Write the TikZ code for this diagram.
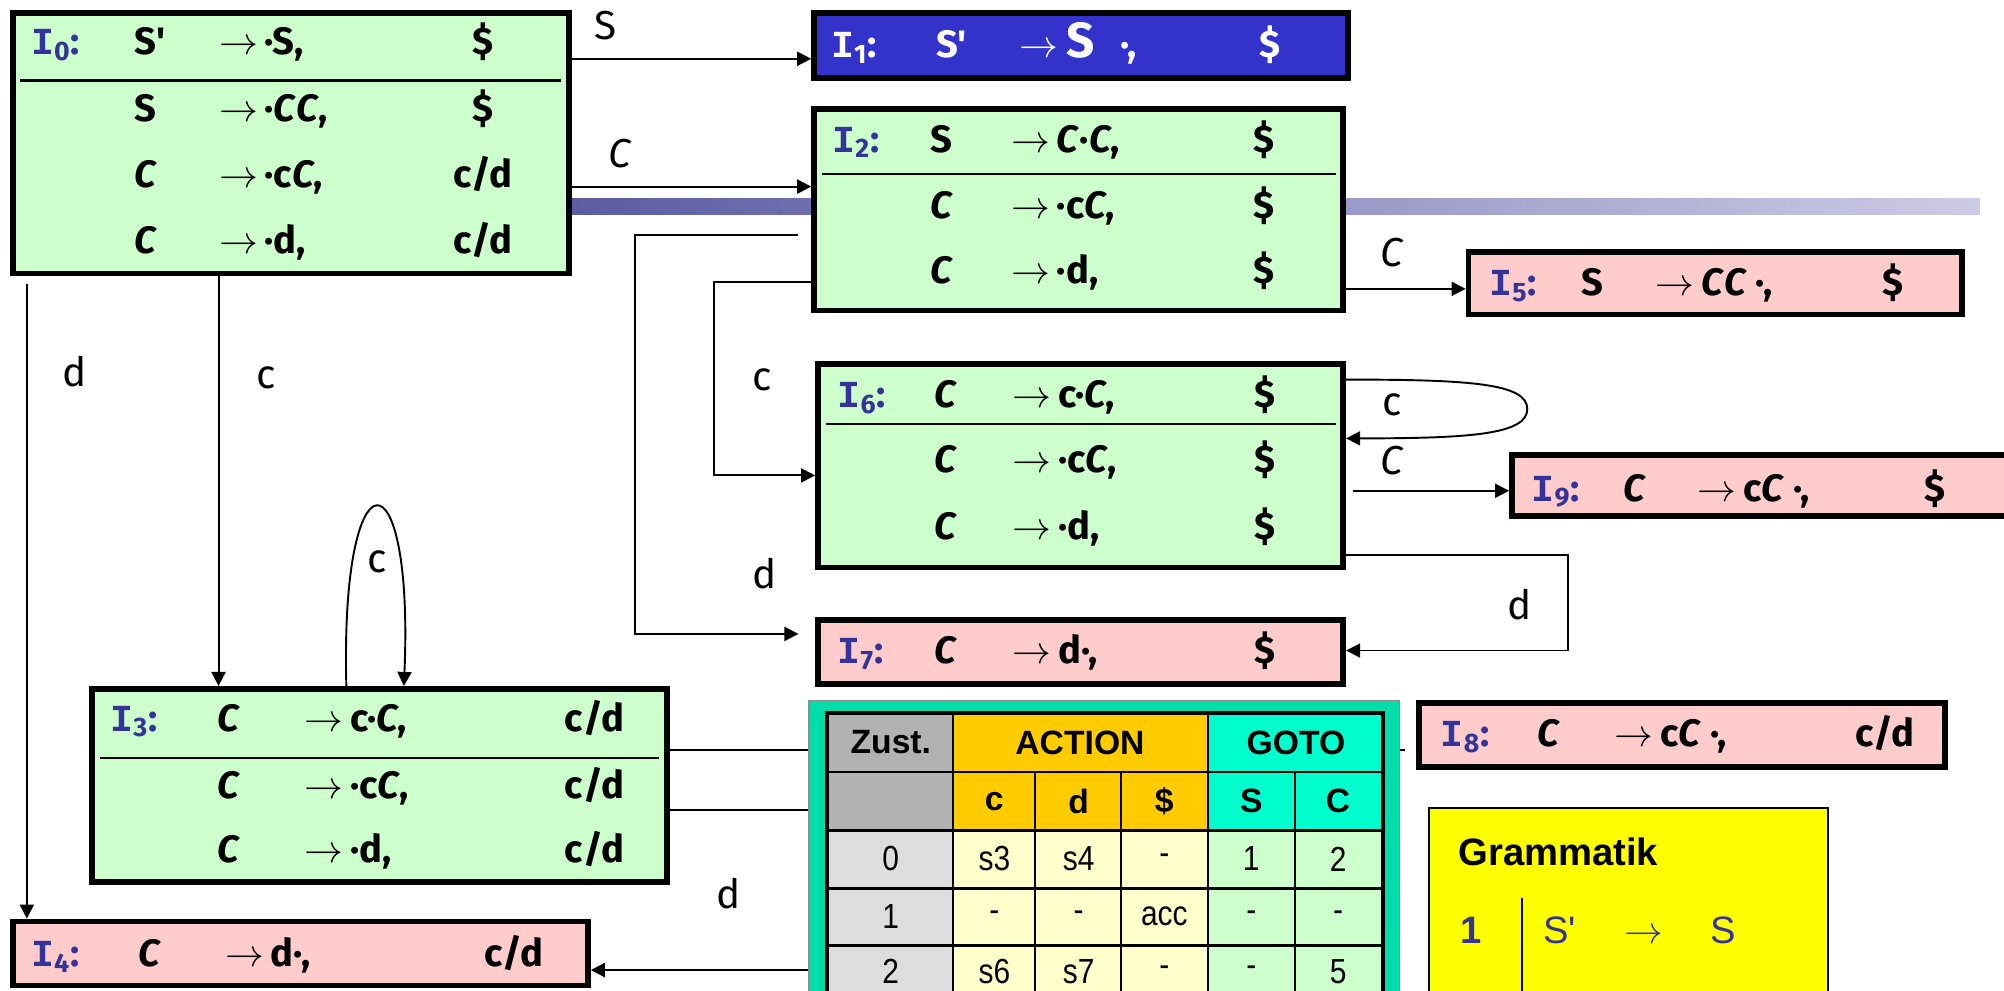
\documentclass[tikz,border=0pt]{standalone}
\usepackage{fontspec}
\setmainfont{Fira Sans}
\newfontfamily\tabfont{Liberation Sans}
\newfontfamily\tabnarrow{Liberation Sans}[FakeStretch=0.86]
\newfontfamily\ifont{Liberation Mono}
\usetikzlibrary{arrows.meta,fit}

\definecolor{itemgreen}{HTML}{CCFFCC}
\definecolor{itempink}{HTML}{FFCCCC}
\definecolor{acceptblue}{HTML}{3333CC}
\definecolor{lblue}{HTML}{333399}
\definecolor{frameteal}{HTML}{00DDAA}
\definecolor{gotohead}{HTML}{00FFCC}
\definecolor{actionhead}{HTML}{FFCC00}
\definecolor{actioncell}{HTML}{FFFFCC}
\definecolor{gotocell}{HTML}{CCFFCC}
\definecolor{statehead}{HTML}{B2B2B2}
\definecolor{statecell}{HTML}{DDDDDD}
\definecolor{grammaryellow}{HTML}{FFFF00}
\definecolor{barleft}{HTML}{5B5BA3}
\definecolor{barright}{HTML}{CCCCE6}

\newcommand\itemfnt{\fontsize{17}{20}\selectfont\bfseries}
\newcommand\NC{\textit{C}}
\newcommand\Ilab[1]{{\ifont I}\textsubscript{#1}:}
% one LR(1) item: prefix, baseline, x of lhs, lhs, x of arrow, rhs, x of lookahead, lookahead
\newcommand\itemrow[8]{%
  \node[itm] (#1l) at (#3,#2) {#4};
  \node[itm] (#1r) at (#5,#2) {$\rightarrow$\hspace{3pt}#6};
  \node[lah] (#1k) at (#7,#2) {#8};}

\begin{document}
\begin{tikzpicture}[x=0.2mm,y=-0.2mm,
  itembox/.style={draw=black, line width=0.9mm, inner sep=0pt},
  divider/.style={line width=0.35mm},
  conn/.style={line width=0.3mm, -{Triangle[length=2.2mm,width=2.2mm]}},
  plainconn/.style={line width=0.3mm},
  itm/.style={anchor=base west, inner sep=0pt, font=\itemfnt},
  lah/.style={anchor=base, inner sep=0pt, font=\itemfnt},
  ilab/.style={anchor=base west, inner sep=0pt, font=\itemfnt, text=lblue},
  elab/.style={inner sep=0pt, font=\fontsize{18}{21}\selectfont},
  tcell/.style={inner sep=0pt, font=\tabnarrow\fontsize{15.5}{18}\selectfont},
  thead/.style={inner sep=0pt, font=\tabfont\fontsize{15}{18}\selectfont\bfseries},
  grid/.style={line width=0.3mm},
  hgrid/.style={line width=0.4mm}]
\useasboundingbox (0,0) rectangle (1568,775);

% shaded rule behind the states
\shade[left color=barleft, right color=barright] (440,155) rectangle (1549,168);

% ---------- states ----------
\node[itembox, fill=itemgreen, fit={(10,10)(445,214)}] (I0) {};
\node[itembox, fill=acceptblue, fit={(637,10)(1055,61)}] (I1) {};
\node[itembox, fill=itemgreen, fit={(637,85)(1051,243)}] (I2) {};
\node[itembox, fill=itempink, fit={(1149,197)(1535,246)}] (I5) {};
\node[itembox, fill=itemgreen, fit={(640,285)(1051,444)}] (I6) {};
\node[itembox, fill=itempink, fit={(1183,356)(1620,404)}] (I9) {};
\node[itembox, fill=itempink, fit={(640,485)(1051,535)}] (I7) {};
\node[itembox, fill=itemgreen, fit={(72,539)(522,690)}] (I3) {};
\node[itembox, fill=itempink, fit={(10,721)(460,771)}] (I4) {};
\node[itembox, fill=itempink, fit={(1110,550)(1522,600)}] (I8) {};

% I0
\node[ilab] (I0n) at (24,43) {\Ilab{0}};
\itemrow{I0a}{43}{105}{S\textquotesingle}{171}{·S,}{378}{\$}
\itemrow{I0b}{95}{105}{S}{171}{·\NC\NC,}{378}{\$}
\itemrow{I0c}{147}{105}{\NC}{171}{·c\NC,}{378}{c/d}
\itemrow{I0d}{198}{105}{\NC}{171}{·d,}{378}{c/d}
\draw[divider] (16,63) -- (439,63);

% I1
\node[ilab, text=white] (I1n) at (650,45) {\Ilab{1}};
\node[itm, text=white] (I1l) at (732,45) {S\textquotesingle};
\node[itm, text=white] (I1a) at (797,45) {$\rightarrow$};
\node[itm, text=white, font=\fontsize{22}{25}\selectfont\bfseries] (I1s) at (834,45) {S};
\node[itm, text=white] (I1d) at (876,45) {·,};
\node[lah, text=white] (I1k) at (994,45) {\$};

% I2
\node[ilab] (I2n) at (651,119) {\Ilab{2}};
\itemrow{I2a}{119}{728}{S}{791}{\NC·\NC,}{989}{\$}
\itemrow{I2b}{171}{728}{\NC}{791}{·c\NC,}{989}{\$}
\itemrow{I2c}{222}{728}{\NC}{791}{·d,}{989}{\$}
\draw[divider] (643,136) -- (1045,136);

% I5
\node[ilab] (I5n) at (1165,231) {\Ilab{5}};
\itemrow{I5a}{231}{1237}{S}{1295}{\NC\NC\ ·,}{1481}{\$}

% I6
\node[ilab] (I6n) at (655,319) {\Ilab{6}};
\itemrow{I6a}{319}{731}{\NC}{792}{c·\NC,}{990}{\$}
\itemrow{I6b}{370}{731}{\NC}{792}{·c\NC,}{990}{\$}
\itemrow{I6c}{422}{731}{\NC}{792}{·d,}{990}{\$}
\draw[divider] (646,332) -- (1045,332);

% I9
\node[ilab] (I9n) at (1198,392) {\Ilab{9}};
\itemrow{I9a}{392}{1270}{\NC}{1328}{c\NC\ ·,}{1514}{\$}

% I7
\node[ilab] (I7n) at (655,519) {\Ilab{7}};
\itemrow{I7a}{519}{731}{\NC}{792}{d·,}{990}{\$}

% I3
\node[ilab] (I3n) at (86,572) {\Ilab{3}};
\itemrow{I3a}{572}{170}{\NC}{238}{c·\NC,}{465}{c/d}
\itemrow{I3b}{625}{170}{\NC}{238}{·c\NC,}{465}{c/d}
\itemrow{I3c}{675}{170}{\NC}{238}{·d,}{465}{c/d}
\draw[divider] (78,593) -- (516,593);

% I4
\node[ilab] (I4n) at (24,756) {\Ilab{4}};
\itemrow{I4a}{756}{108}{\NC}{176}{d·,}{402}{c/d}

% I8
\node[ilab] (I8n) at (1127,584) {\Ilab{8}};
\itemrow{I8a}{584}{1203}{\NC}{1263}{c\NC\ ·,}{1475}{c/d}

% ---------- transitions ----------
\coordinate (yS) at (0,46);
\draw[conn] (I0.east |- yS) -- (I1.west |- yS);
\node[elab] (lS) at (474,20) {S};

\coordinate (yC) at (0,146);
\draw[conn] (I0.east |- yC) -- (I2.west |- yC);
\node[elab] (lC02) at (485,120) {\textit{C}};

\coordinate (x04) at (21,0);
\draw[conn, shorten <=1.2mm] (I0.south -| x04) -- (I4.north -| x04);
\node[elab] (ld04) at (58,291) {d};

\coordinate (x03) at (171,0);
\draw[conn] (I0.south -| x03) -- (I3.north -| x03);
\node[elab] (lc03) at (208,296) {c};

\coordinate (l3a) at (271,0);
\coordinate (l3b) at (316,0);
\draw[conn] (I3.north -| l3a) .. controls (266,350) and (324,350) .. (I3.north -| l3b);
\node[elab] (lc33) at (295,440) {c};

\coordinate (k27a) at (497,184);
\coordinate (k27b) at (497,496);
\draw[conn, shorten <=2mm, shorten >=2.6mm] (I2.west |- k27a) -- (k27a) -- (k27b) -- (I7.west |- k27b);
\node[elab] (ld27) at (598,449) {d};

\coordinate (k26a) at (559,221);
\coordinate (k26b) at (559,372);
\draw[conn] (I2.west |- k26a) -- (k26a) -- (k26b) -- (I6.west |- k26b);
\node[elab] (lc26) at (596,297) {c};

\coordinate (y25) at (0,226);
\draw[conn] (I2.east |- y25) -- (I5.west |- y25);
\node[elab] (lC25) at (1089,198) {\textit{C}};

\coordinate (l6a) at (0,297);
\coordinate (l6b) at (0,343);
\draw[conn] (I6.east |- l6a) .. controls (1150,297) and (1195,300) .. (1195,320)
  .. controls (1195,340) and (1150,343) .. (I6.east |- l6b);
\node[elab] (lc66) at (1089,317) {c};

\coordinate (y69) at (0,384);
\draw[conn, shorten <=1mm] (I6.east |- y69) -- (I9.west |- y69);
\node[elab] (lC69) at (1089,360) {\textit{C}};

\coordinate (k67a) at (1227,434);
\coordinate (k67b) at (1227,509);
\draw[conn] (I6.east |- k67a) -- (k67a) -- (k67b) -- (I7.east |- k67b);
\node[elab] (ld67) at (1189,473) {d};

\coordinate (y38) at (0,587);
\coordinate (e38) at (1099,587);
\draw[plainconn] (I3.east |- y38) -- (e38);

\coordinate (k34a) at (700,634);
\coordinate (k34b) at (700,759);
\draw[conn] (I3.east |- k34a) -- (k34a) -- (k34b) -- (I4.east |- k34b);
\node[elab] (ld34) at (570,699) {d};

% ---------- parse table ----------
\node[fit={(633,548)(1095,800)}, inner sep=0pt, fill=frameteal, draw=black!45, line width=0.2mm] (tab) {};
% header backgrounds
\fill[statehead] (646,558) rectangle (746,650);
\fill[actionhead] (746,558) rectangle (945,650);
\fill[gotohead] (945,558) rectangle (1083,650);
% body backgrounds
\fill[statecell] (646,650) rectangle (746,800);
\fill[actioncell] (746,650) rectangle (945,800);
\fill[gotocell] (945,650) rectangle (1083,800);
% grid
\draw[grid] (746,558) -- (746,800);
\draw[grid] (945,558) -- (945,800);
\draw[grid] (810,604) -- (810,800);
\draw[grid] (877,604) -- (877,800);
\draw[grid] (1013,604) -- (1013,800);
\draw[grid] (646,604) -- (1083,604);
\draw[hgrid] (646,650) -- (1083,650);
\draw[hgrid] (646,695) -- (1083,695);
\draw[hgrid] (646,740) -- (1083,740);
\draw[line width=0.6mm] (647,800) -- (647,558) -- (1082,558) -- (1082,800);

\node[thead] (hz) at (697,581) {Zust.};
\node[thead] (ha) at (845,581) {ACTION};
\node[thead] (hg) at (1014,581) {GOTO};
\node[thead] (hc) at (778,627) {c};
\node[thead] (hd) at (844,627) {d};
\node[thead] (hdol) at (911,627) {\$};
\node[thead] (hS) at (979,627) {S};
\node[thead] (hC) at (1047,627) {C};

\node[tcell] (r0z) at (697,672) {0};
\node[tcell] (r0c) at (778,672) {s3};
\node[tcell] (r0d) at (844,672) {s4};
\node[tcell] (r0e) at (911,672) {-};
\node[tcell] (r0S) at (979,672) {1};
\node[tcell] (r0C) at (1047,672) {2};

\node[tcell] (r1z) at (697,717) {1};
\node[tcell] (r1c) at (778,717) {-};
\node[tcell] (r1d) at (844,717) {-};
\node[tcell] (r1e) at (911,717) {acc};
\node[tcell] (r1S) at (979,717) {-};
\node[tcell] (r1C) at (1047,717) {-};

\node[tcell] (r2z) at (697,760) {2};
\node[tcell] (r2c) at (778,760) {s6};
\node[tcell] (r2d) at (844,760) {s7};
\node[tcell] (r2e) at (911,760) {-};
\node[tcell] (r2S) at (979,760) {-};
\node[tcell] (r2C) at (1047,760) {5};

% ---------- grammar ----------
\node[fit={(1118,632)(1430,800)}, inner sep=0pt, fill=grammaryellow, draw=black, line width=0.3mm] (gram) {};
\node[anchor=base west, inner sep=0pt, font=\tabfont\fontsize{17}{20}\selectfont\bfseries] (gt) at (1141,677) {Grammatik};
\node[anchor=base west, inner sep=0pt, text=lblue, font=\tabfont\fontsize{17}{20}\selectfont\bfseries] (g1n) at (1142,738) {1};
\draw[line width=0.3mm] (1191,703) -- (1191,800);
\node[anchor=base west, inner sep=0pt, text=lblue, font=\tabfont\fontsize{17}{20}\selectfont] (g1l) at (1207,738) {S\textquotesingle};
\node[anchor=base west, inner sep=0pt, text=lblue, font=\tabfont\fontsize{17}{20}\selectfont] (g1a) at (1271,738) {$\rightarrow$};
\node[anchor=base west, inner sep=0pt, text=lblue, font=\tabfont\fontsize{17}{20}\selectfont] (g1r) at (1338,738) {S};
\end{tikzpicture}
\end{document}
